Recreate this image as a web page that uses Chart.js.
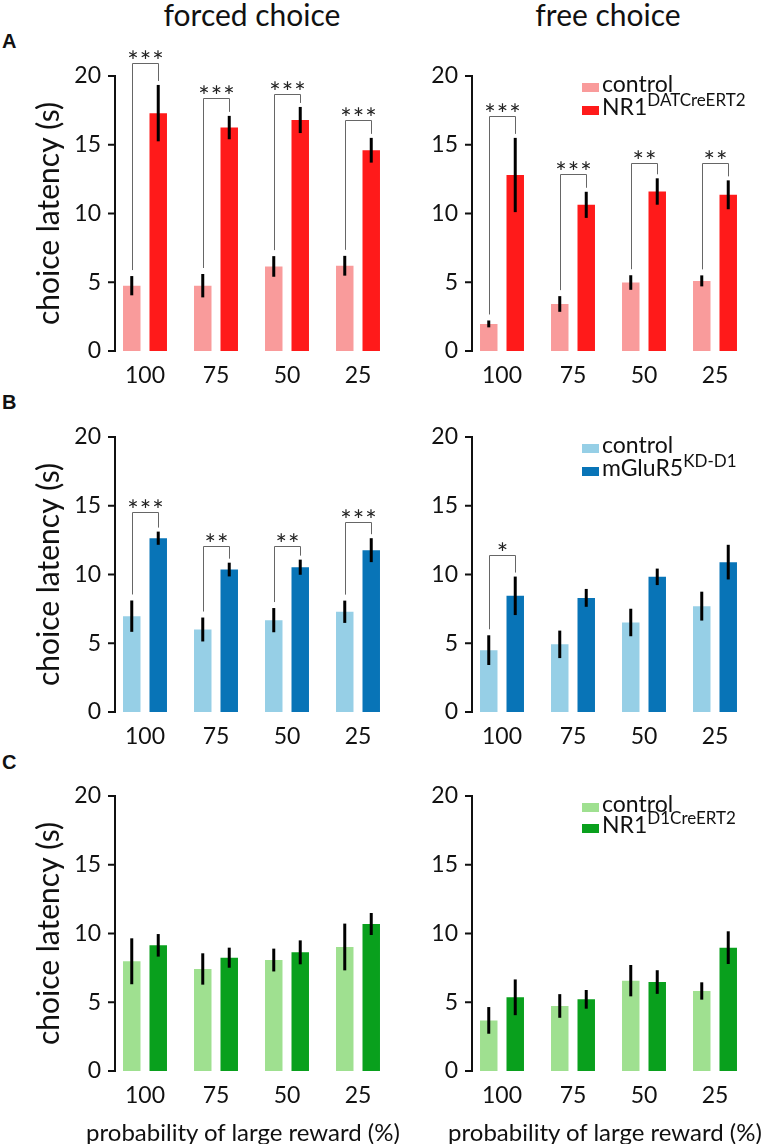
<!DOCTYPE html>
<html>
<head>
<meta charset="utf-8">
<script src="https://cdn.jsdelivr.net/npm/chart.js@4.4.1/dist/chart.umd.min.js"></script>
<style>
  body { margin: 0; background: #fff; width: 775px; height: 1144px; position: relative; overflow: hidden; font-family: Lato, "Noto Sans", sans-serif; color: #111; }
  .panel { position: absolute; width: 400px; height: 400px; }
  .txt { position: absolute; white-space: nowrap; line-height: 1; }
  .center { transform: translate(-50%, -50%); }
  .letter { font-family: "Liberation Sans", Arial, sans-serif; font-weight: bold; font-size: 20px; }
  .legend { font-size: 23px; }
  .sw { display: inline-block; width: 17px; height: 9px; margin-right: 3px; }
  .sup { position: relative; top: -9px; font-size: 17px; }
</style>
</head>
<body>

<div class="txt center" style="left:252px; top:14px; font-size:30px;">forced choice</div>
<div class="txt center" style="left:608px; top:14px; font-size:30px;">free choice</div>

<div class="txt letter" style="left:2px; top:31px;">A</div>
<div class="txt letter" style="left:2px; top:392px;">B</div>
<div class="txt letter" style="left:2px; top:752px;">C</div>

<canvas id="forcedA" class="panel" width="400" height="400" style="left:0; top:0;"></canvas>
<canvas id="freeA" class="panel" width="400" height="400" style="left:357px; top:0;"></canvas>
<canvas id="forcedB" class="panel" width="400" height="400" style="left:0; top:361px;"></canvas>
<canvas id="freeB" class="panel" width="400" height="400" style="left:357px; top:361px;"></canvas>
<canvas id="forcedC" class="panel" width="400" height="400" style="left:0; top:720px;"></canvas>
<canvas id="freeC" class="panel" width="400" height="400" style="left:357px; top:720px;"></canvas>

<div class="txt legend" style="left:582px; top:72px;"><span class="sw" style="background:#f99b9b"></span>control</div>
<div class="txt legend" style="left:582px; top:95px;"><span class="sw" style="background:#ff1a1a"></span>NR1<span class="sup">DATCreERT2</span></div>
<div class="txt legend" style="left:582px; top:433px;"><span class="sw" style="background:#96cfe6"></span>control</div>
<div class="txt legend" style="left:582px; top:456px;"><span class="sw" style="background:#0874b7"></span>mGluR5<span class="sup">KD-D1</span></div>
<div class="txt legend" style="left:582px; top:792px;"><span class="sw" style="background:#9fe090"></span>control</div>
<div class="txt legend" style="left:582px; top:813px;"><span class="sw" style="background:#09a01d"></span>NR1<span class="sup">D1CreERT2</span></div>

<div class="txt center" style="left:243px; top:1132px; font-size:24px;">probability of large reward (%)</div>
<div class="txt center" style="left:605px; top:1132px; font-size:24px;">probability of large reward (%)</div>

<script>
const probabilities = ["100", "75", "50", "25"];
const yTicks = [0, 5, 10, 15, 20];

// A: NR1 DATCreERT2
const forcedCtrlA = [4.75, 4.75, 6.15, 6.2];
const forcedCtrlErrA = [0.7, 0.85, 0.75, 0.72];
const forcedMutA = [17.3, 16.25, 16.8, 14.6];
const forcedMutErrA = [2.05, 0.85, 0.95, 0.9];
const forcedStarsA = ["***", "***", "***", "***"];
const forcedBracketA = [20.95, 18.4, 18.7, 16.8];

const freeCtrlA = [1.97, 3.42, 4.98, 5.1];
const freeCtrlErrA = [0.25, 0.57, 0.53, 0.4];
const freeMutA = [12.8, 10.63, 11.6, 11.36];
const freeMutErrA = [2.7, 0.95, 0.96, 1.05];
const freeStarsA = ["***", "***", "**", "**"];
const freeBracketA = [17.1, 12.9, 13.7, 13.7];

// B: mGluR5 KD-D1
const forcedCtrlB = [6.97, 6.0, 6.68, 7.29];
const forcedCtrlErrB = [1.14, 0.87, 0.88, 0.81];
const forcedMutB = [12.64, 10.36, 10.53, 11.77];
const forcedMutErrB = [0.48, 0.5, 0.55, 0.87];
const forcedStarsB = ["***", "**", "**", "***"];
const forcedBracketB = [14.58, 12.06, 12.06, 13.83];

const freeCtrlB = [4.5, 4.92, 6.51, 7.7];
const freeCtrlErrB = [1.08, 1.0, 1.0, 1.05];
const freeMutB = [8.45, 8.3, 9.83, 10.9];
const freeMutErrB = [1.4, 0.65, 0.6, 1.26];
const freeStarsB = ["*", "", "", ""];
const freeBracketB = [11.43, 0, 0, 0];

// C: NR1 D1CreERT2
const forcedCtrlC = [7.98, 7.42, 8.07, 9.02];
const forcedCtrlErrC = [1.67, 1.14, 0.83, 1.7];
const forcedMutC = [9.14, 8.24, 8.63, 10.69];
const forcedMutErrC = [0.82, 0.73, 0.87, 0.8];

const freeCtrlC = [3.68, 4.73, 6.57, 5.82];
const freeCtrlErrC = [0.97, 0.86, 1.14, 0.63];
const freeMutC = [5.36, 5.21, 6.47, 8.97];
const freeMutErrC = [1.3, 0.68, 0.86, 1.19];

const noStars = ["", "", "", ""];
const noBracket = [0, 0, 0, 0];

// axis line + tick marks, error bars, significance brackets
const panelMarks = {
  id: "panelMarks",
  afterDatasetsDraw(chart, args, opts) {
    const ctx = chart.ctx;
    const y = chart.scales.y;
    const axisX = chart.chartArea.left + 5.5;
    ctx.save();
    ctx.strokeStyle = "#111";
    ctx.lineWidth = 2;
    ctx.beginPath();
    ctx.moveTo(axisX, y.getPixelForValue(0) + 1);
    ctx.lineTo(axisX, y.getPixelForValue(20) - 1);
    yTicks.forEach(v => {
      ctx.moveTo(axisX - 7, y.getPixelForValue(v));
      ctx.lineTo(axisX, y.getPixelForValue(v));
    });
    ctx.stroke();

    // error bars
    ctx.lineWidth = 3;
    ctx.strokeStyle = "#000";
    chart.data.datasets.forEach((ds, i) => {
      const meta = chart.getDatasetMeta(i);
      meta.data.forEach((bar, j) => {
        const e = opts.errors[i][j];
        ctx.beginPath();
        ctx.moveTo(bar.x, y.getPixelForValue(ds.data[j] + e));
        ctx.lineTo(bar.x, y.getPixelForValue(ds.data[j] - e));
        ctx.stroke();
      });
    });

    // brackets
    const m0 = chart.getDatasetMeta(0), m1 = chart.getDatasetMeta(1);
    const d0 = chart.data.datasets[0].data, d1 = chart.data.datasets[1].data;
    ctx.lineWidth = 1;
    ctx.strokeStyle = "#666";
    ctx.fillStyle = "#222";
    ctx.font = "27px Lato";
    ctx.textAlign = "center";
    ctx.textBaseline = "alphabetic";
    opts.stars.forEach((s, j) => {
      if (!s) return;
      const xL = Math.round(m0.data[j].x) + 0.5, xR = Math.round(m1.data[j].x) + 0.5;
      const top = Math.round(y.getPixelForValue(opts.brackets[j])) + 0.5;
      const lBot = y.getPixelForValue(d0[j] + opts.errors[0][j]) - 6;
      const rBot = y.getPixelForValue(d1[j] + opts.errors[1][j]) - 4;
      ctx.beginPath();
      ctx.moveTo(xL, lBot);
      ctx.lineTo(xL, top);
      ctx.lineTo(xR, top);
      ctx.lineTo(xR, rBot);
      ctx.stroke();
      const mid = (xL + xR) / 2;
      for (let k = 0; k < s.length; k++) {
        ctx.fillText("*", mid + (k - (s.length - 1) / 2) * 12.5, top + 7);
      }
    });
    ctx.restore();
  }
};

function makePanel(id, ctrl, ctrlErr, mut, mutErr, colors, stars, brackets, showTitle) {
  return new Chart(document.getElementById(id), {
    type: "bar",
    data: {
      labels: probabilities,
      datasets: [
        { label: "control", data: ctrl, backgroundColor: colors[0], barPercentage: 0.66, categoryPercentage: 0.746 },
        { label: "mutant", data: mut, backgroundColor: colors[1], barPercentage: 0.66, categoryPercentage: 0.746 }
      ]
    },
    options: {
      responsive: false,
      animation: false,
      layout: { padding: { left: 31, top: 76, right: 6.5, bottom: 0 } },
      plugins: {
        legend: { display: false },
        tooltip: { enabled: false },
        panelMarks: { errors: [ctrlErr, mutErr], stars: stars, brackets: brackets }
      },
      scales: {
        x: {
          grid: { display: false, drawTicks: false },
          border: { display: false },
          ticks: { color: "#111", font: { family: "Lato", size: 23 }, padding: 11 },
          afterFit(scale) { scale.height = 49; }
        },
        y: {
          min: 0,
          max: 20,
          grid: { display: false, drawTicks: false },
          border: { display: false },
          ticks: { stepSize: 5, color: "#111", font: { family: "Lato", size: 23 }, padding: 8.5 },
          title: { display: showTitle, text: "choice latency (s)", color: "#111", font: { family: "Lato", size: 30 }, padding: 0 },
          afterFit(scale) { scale.width = 78.5; }
        }
      }
    },
    plugins: [panelMarks]
  });
}

const redColors = ["#f99b9b", "#ff1a1a"];
const blueColors = ["#96cfe6", "#0874b7"];
const greenColors = ["#9fe090", "#09a01d"];

makePanel("forcedA", forcedCtrlA, forcedCtrlErrA, forcedMutA, forcedMutErrA, redColors, forcedStarsA, forcedBracketA, true);
makePanel("freeA", freeCtrlA, freeCtrlErrA, freeMutA, freeMutErrA, redColors, freeStarsA, freeBracketA, false);
makePanel("forcedB", forcedCtrlB, forcedCtrlErrB, forcedMutB, forcedMutErrB, blueColors, forcedStarsB, forcedBracketB, true);
makePanel("freeB", freeCtrlB, freeCtrlErrB, freeMutB, freeMutErrB, blueColors, freeStarsB, freeBracketB, false);
makePanel("forcedC", forcedCtrlC, forcedCtrlErrC, forcedMutC, forcedMutErrC, greenColors, noStars, noBracket, true);
makePanel("freeC", freeCtrlC, freeCtrlErrC, freeMutC, freeMutErrC, greenColors, noStars, noBracket, false);
</script>
</body>
</html>
